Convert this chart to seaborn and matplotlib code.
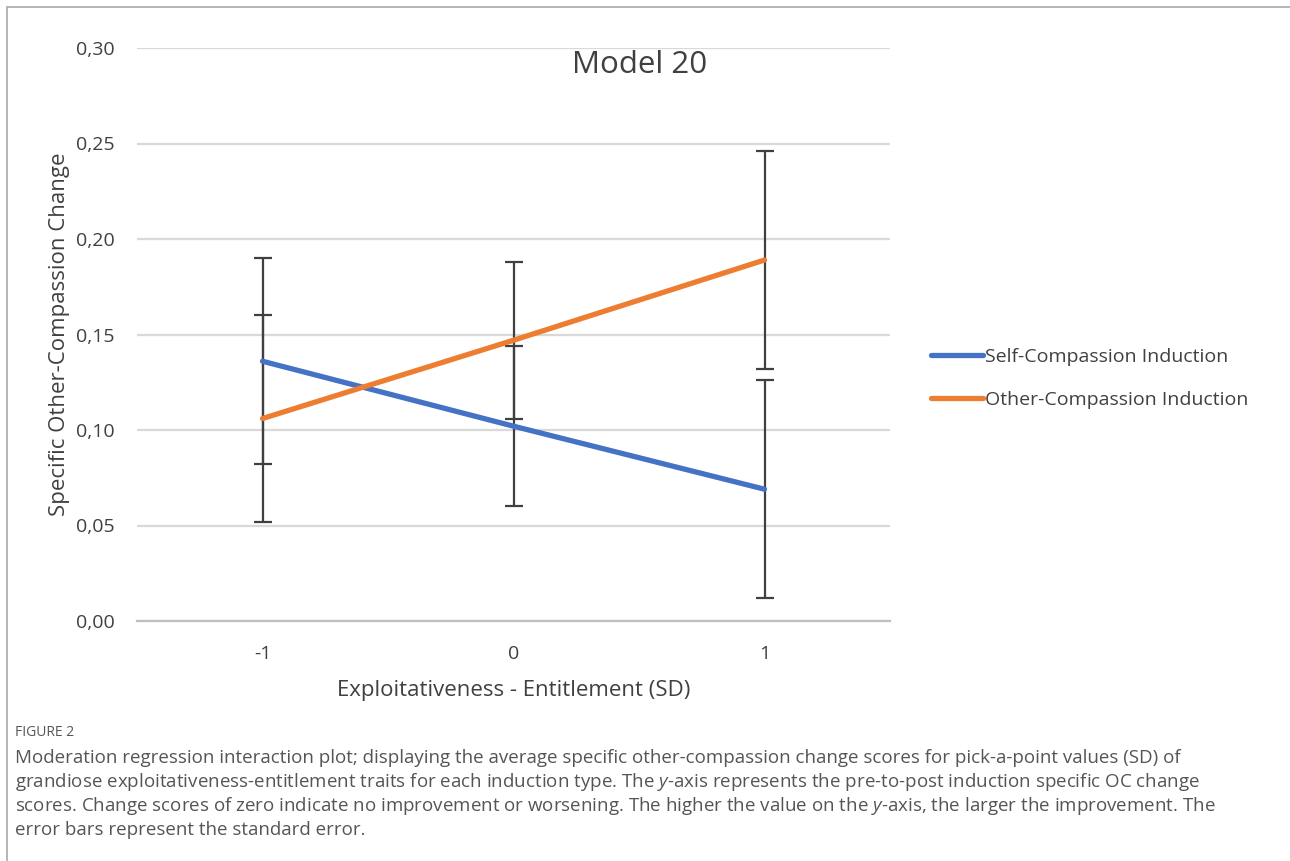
import pandas as pd
import matplotlib.pyplot as plt
import seaborn as sns
import numpy as np
from matplotlib.lines import Line2D
from matplotlib.ticker import FuncFormatter

# Data
sd_levels = [-1, 0, 1]
sd_labels = ['-1', '0', '1']
self_means = [0.136, 0.102, 0.069]
self_se = [0.054, 0.042, 0.057]
other_means = [0.106, 0.147, 0.189]
other_se = [0.054, 0.041, 0.057]
groups = ['Self-Compassion Induction', 'Other-Compassion Induction']
colors = ['#4472C4', '#ED7D31']
y_ticks = [0.0, 0.05, 0.10, 0.15, 0.20, 0.25, 0.30]

caption_lines = [
    'Moderation regression interaction plot; displaying the average specific other-compassion change scores for pick-a-point values (SD) of',
    'grandiose exploitativeness-entitlement traits for each induction type. The $y$-axis represents the pre-to-post induction specific OC change',
    'scores. Change scores of zero indicate no improvement or worsening. The higher the value on the $y$-axis, the larger the improvement. The',
    'error bars represent the standard error.',
]

df = pd.DataFrame({
    'sd': sd_levels * 2,
    'value': self_means + other_means,
    'se': self_se + other_se,
    'group': [groups[0]] * 3 + [groups[1]] * 3,
})

sns.set_theme(style='white')
plt.rcParams['font.family'] = ['Open Sans', 'DejaVu Sans']
plt.rcParams['mathtext.fontset'] = 'custom'
plt.rcParams['mathtext.it'] = 'Open Sans:italic'

fig = plt.figure(figsize=(12.9, 8.61), dpi=100)
ax = fig.add_axes([137 / 1290, 1 - 621 / 861, (890 - 137) / 1290, (621 - 48) / 861])

# Error bars first, lines drawn on top
for g in groups:
    sub = df[df['group'] == g]
    ax.errorbar(sub['sd'], sub['value'], yerr=sub['se'], fmt='none',
                ecolor='#404040', elinewidth=1.6, capsize=6.5, capthick=1.6, zorder=2)

sns.lineplot(data=df, x='sd', y='value', hue='group', hue_order=groups,
             palette=colors, linewidth=3.8, ax=ax, legend=False, zorder=3,
             solid_capstyle='round')

ax.set_xlim(-1.5, 1.5)
ax.set_ylim(0, 0.30)
ax.set_yticks(y_ticks)
ax.yaxis.set_major_formatter(FuncFormatter(lambda v, p: f'{v:.2f}'.replace('.', ',')))
ax.set_xticks(sd_levels)
ax.set_xticklabels(sd_labels)
ax.set_xticks([-1.5, -0.5, 0.5, 1.5], minor=True)
ax.tick_params(axis='x', which='major', length=0, pad=17, labelsize=14, labelcolor='#404040')
ax.tick_params(axis='x', which='minor', length=6, width=1.2, color='#bfbfbf', direction='out')
ax.tick_params(axis='y', length=0, pad=16, labelsize=14, labelcolor='#404040')

ax.grid(axis='y', color='#d9d9d9', linewidth=1.6)
ax.set_axisbelow(True)
for s in ['top', 'right', 'left']:
    ax.spines[s].set_visible(False)
ax.spines['bottom'].set_color('#bfbfbf')
ax.spines['bottom'].set_linewidth(1.6)

ax.set_xlabel('Exploitativeness - Entitlement (SD)', fontsize=16, color='#404040')
ax.set_ylabel('Specific Other-Compassion Change', fontsize=16, color='#404040')
ax.xaxis.set_label_coords(0.5, -0.103)
ax.yaxis.set_label_coords(-0.089, 0.5)

fig.text(640 / 1290, 1 - 65 / 861, 'Model 20', fontsize=22.5, color='#404040',
         ha='center', va='center')

handles = [Line2D([0], [0], color=c, linewidth=3.8, solid_capstyle='round') for c in colors]
fig.legend(handles, groups, loc='upper left', bbox_to_anchor=(921 / 1290, 1 - 338 / 861),
           frameon=False, fontsize=14, handlelength=2.7, handletextpad=0.1,
           labelspacing=1.3, borderpad=0, labelcolor='#404040')

# Figure border (top and left only) and caption
fig.add_artist(Line2D([7 / 1290, 7 / 1290], [0, 1 - 7 / 861], color='#b0b0b0', linewidth=1.3))
fig.add_artist(Line2D([7 / 1290, 1], [1 - 7 / 861, 1 - 7 / 861], color='#b0b0b0', linewidth=1.3))

fig.text(15 / 1290, 1 - 733 / 861, 'FIGURE 2', fontsize=10, color='#555555', va='center')
for i, line in enumerate(caption_lines):
    fig.text(15 / 1290, 1 - (758 + 24 * i) / 861, line, fontsize=13.5, color='#555555', va='center')

plt.savefig('out.png', dpi=100)
